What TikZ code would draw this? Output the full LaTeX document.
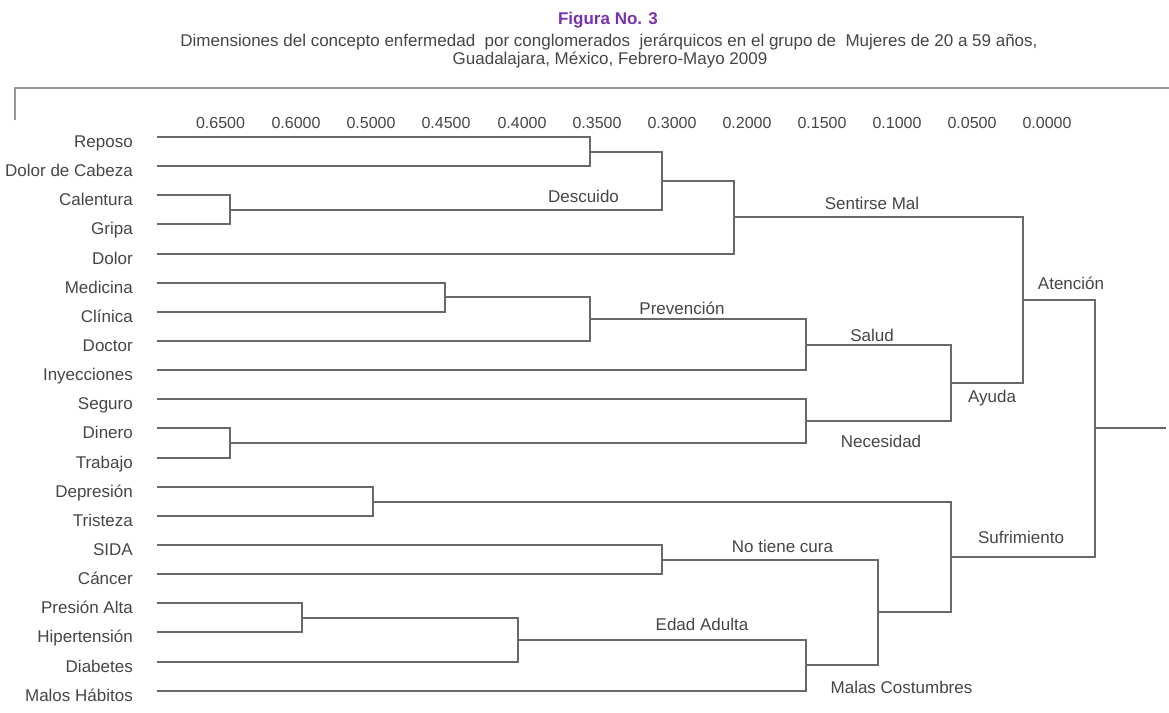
\documentclass[tikz,border=0pt]{standalone}
\usepackage{fontspec}
\setmainfont{Liberation Sans}
\begin{document}
\begin{tikzpicture}[x=1pt,y=-1pt,
  branch/.style={draw=linegray,line width=1.8pt},
  leaflabel/.style={anchor=base east,inner sep=0pt,font=\fontsize{17}{20}\selectfont,text=textgray},
  clusterlabel/.style={anchor=base,inner sep=0pt,font=\fontsize{17}{20}\selectfont,text=textgray},
  axislabel/.style={anchor=base,inner sep=0pt,font=\fontsize{16}{19}\selectfont,text=textgray},
  titletext/.style={anchor=base,inner sep=0pt,font=\fontsize{17}{20}\selectfont,text=textgray},
  frameline/.style={draw=framegray,line width=1.4pt}]
\definecolor{linegray}{RGB}{105,105,105}
\definecolor{textgray}{RGB}{70,70,70}
\definecolor{framegray}{RGB}{150,150,150}
\definecolor{titlepurple}{RGB}{120,50,170}
\useasboundingbox (0,0) rectangle (1169,712);

% title
\node[titletext,font=\bfseries\fontsize{17}{20}\selectfont,text=titlepurple] (fig) at (608,24) {Figura No. 3};
\node[titletext] (t1) at (609,46) {Dimensiones del concepto enfermedad\ \ por conglomerados\ \ jerárquicos en el grupo de\ \ Mujeres de 20 a 59 años,};
\node[titletext] (t2) at (610,64) {Guadalajara, México, Febrero-Mayo 2009};

% frame
\draw[frameline] (15,120) -- (15,88) -- (1169,88);

% axis
\foreach \xx/\v in {220.5/0.6500,296/0.6000,371/0.5000,446/0.4500,522/0.4000,597/0.3500,672/0.3000,747/0.2000,822/0.1500,897/0.1000,972/0.0500,1047/0.0000}
  \node[axislabel] (ax\v) at (\xx,128) {\v};

% leaves
\foreach \i/\yy/\t in {0/137/Reposo,1/166/Dolor de Cabeza,2/195/Calentura,3/224/Gripa,4/254/Dolor,5/283/Medicina,6/312/Clínica,7/341/Doctor,8/370/Inyecciones,9/399/Seguro,10/428/Dinero,11/458/Trabajo,12/487/Depresión,13/516/Tristeza,14/545/SIDA,15/574/Cáncer,16/603/Presión Alta,17/632/Hipertensión,18/662/Diabetes,19/691/Malos Hábitos}{
  \coordinate (l\i) at (157,\yy);
  \node[leaflabel] (n\i) at (133,\yy+10) {\t};
}

% merge points
\coordinate (a) at (590,152);
\coordinate (b) at (230,210);
\coordinate (c) at (662,181);
\coordinate (d) at (734,217);
\coordinate (f) at (445,297);
\coordinate (g) at (590,319);
\coordinate (h) at (806,345);
\coordinate (i) at (230,443);
\coordinate (j) at (806,421);
\coordinate (k) at (951,383);
\coordinate (e) at (1023,300);
\coordinate (l) at (373,502);
\coordinate (m) at (662,560);
\coordinate (n) at (302,618);
\coordinate (o) at (518,640);
\coordinate (p) at (806,665);
\coordinate (q) at (878,612);
\coordinate (r) at (951,557);
\coordinate (s) at (1095,428);
\coordinate (rootend) at (1166,428);

% dendrogram
\draw[branch] (l0) -| (a) |- (l1);
\draw[branch] (l2) -| (b) |- (l3);
\draw[branch] (a) -| (c) |- (b);
\draw[branch] (c) -| (d) |- (l4);
\draw[branch] (l5) -| (f) |- (l6);
\draw[branch] (f) -| (g) |- (l7);
\draw[branch] (g) -| (h) |- (l8);
\draw[branch] (l10) -| (i) |- (l11);
\draw[branch] (l9) -| (j) |- (i);
\draw[branch] (h) -| (k) |- (j);
\draw[branch] (d) -| (e) |- (k);
\draw[branch] (l12) -| (l) |- (l13);
\draw[branch] (l14) -| (m) |- (l15);
\draw[branch] (l16) -| (n) |- (l17);
\draw[branch] (n) -| (o) |- (l18);
\draw[branch] (o) -| (p) |- (l19);
\draw[branch] (m) -| (q) |- (p);
\draw[branch] (l) -| (r) |- (q);
\draw[branch] (e) -| (s) |- (r);
\draw[branch] (s) -- (rootend);

% cluster labels
\node[clusterlabel] (descuido) at (583.5,202) {Descuido};
\node[clusterlabel] (sentirse) at (872,209) {Sentirse Mal};
\node[clusterlabel] (atencion) at (1071,289) {Atención};
\node[clusterlabel] (prevencion) at (682,314) {Prevención};
\node[clusterlabel] (salud) at (872,341) {Salud};
\node[clusterlabel] (ayuda) at (992,402) {Ayuda};
\node[clusterlabel] (necesidad) at (881,447) {Necesidad};
\node[clusterlabel] (sufrimiento) at (1021,543) {Sufrimiento};
\node[clusterlabel] (notiene) at (782.5,552) {No tiene cura};
\node[clusterlabel] (edad) at (702,630) {Edad Adulta};
\node[clusterlabel] (malas) at (901.5,693) {Malas Costumbres};
\end{tikzpicture}
\end{document}
